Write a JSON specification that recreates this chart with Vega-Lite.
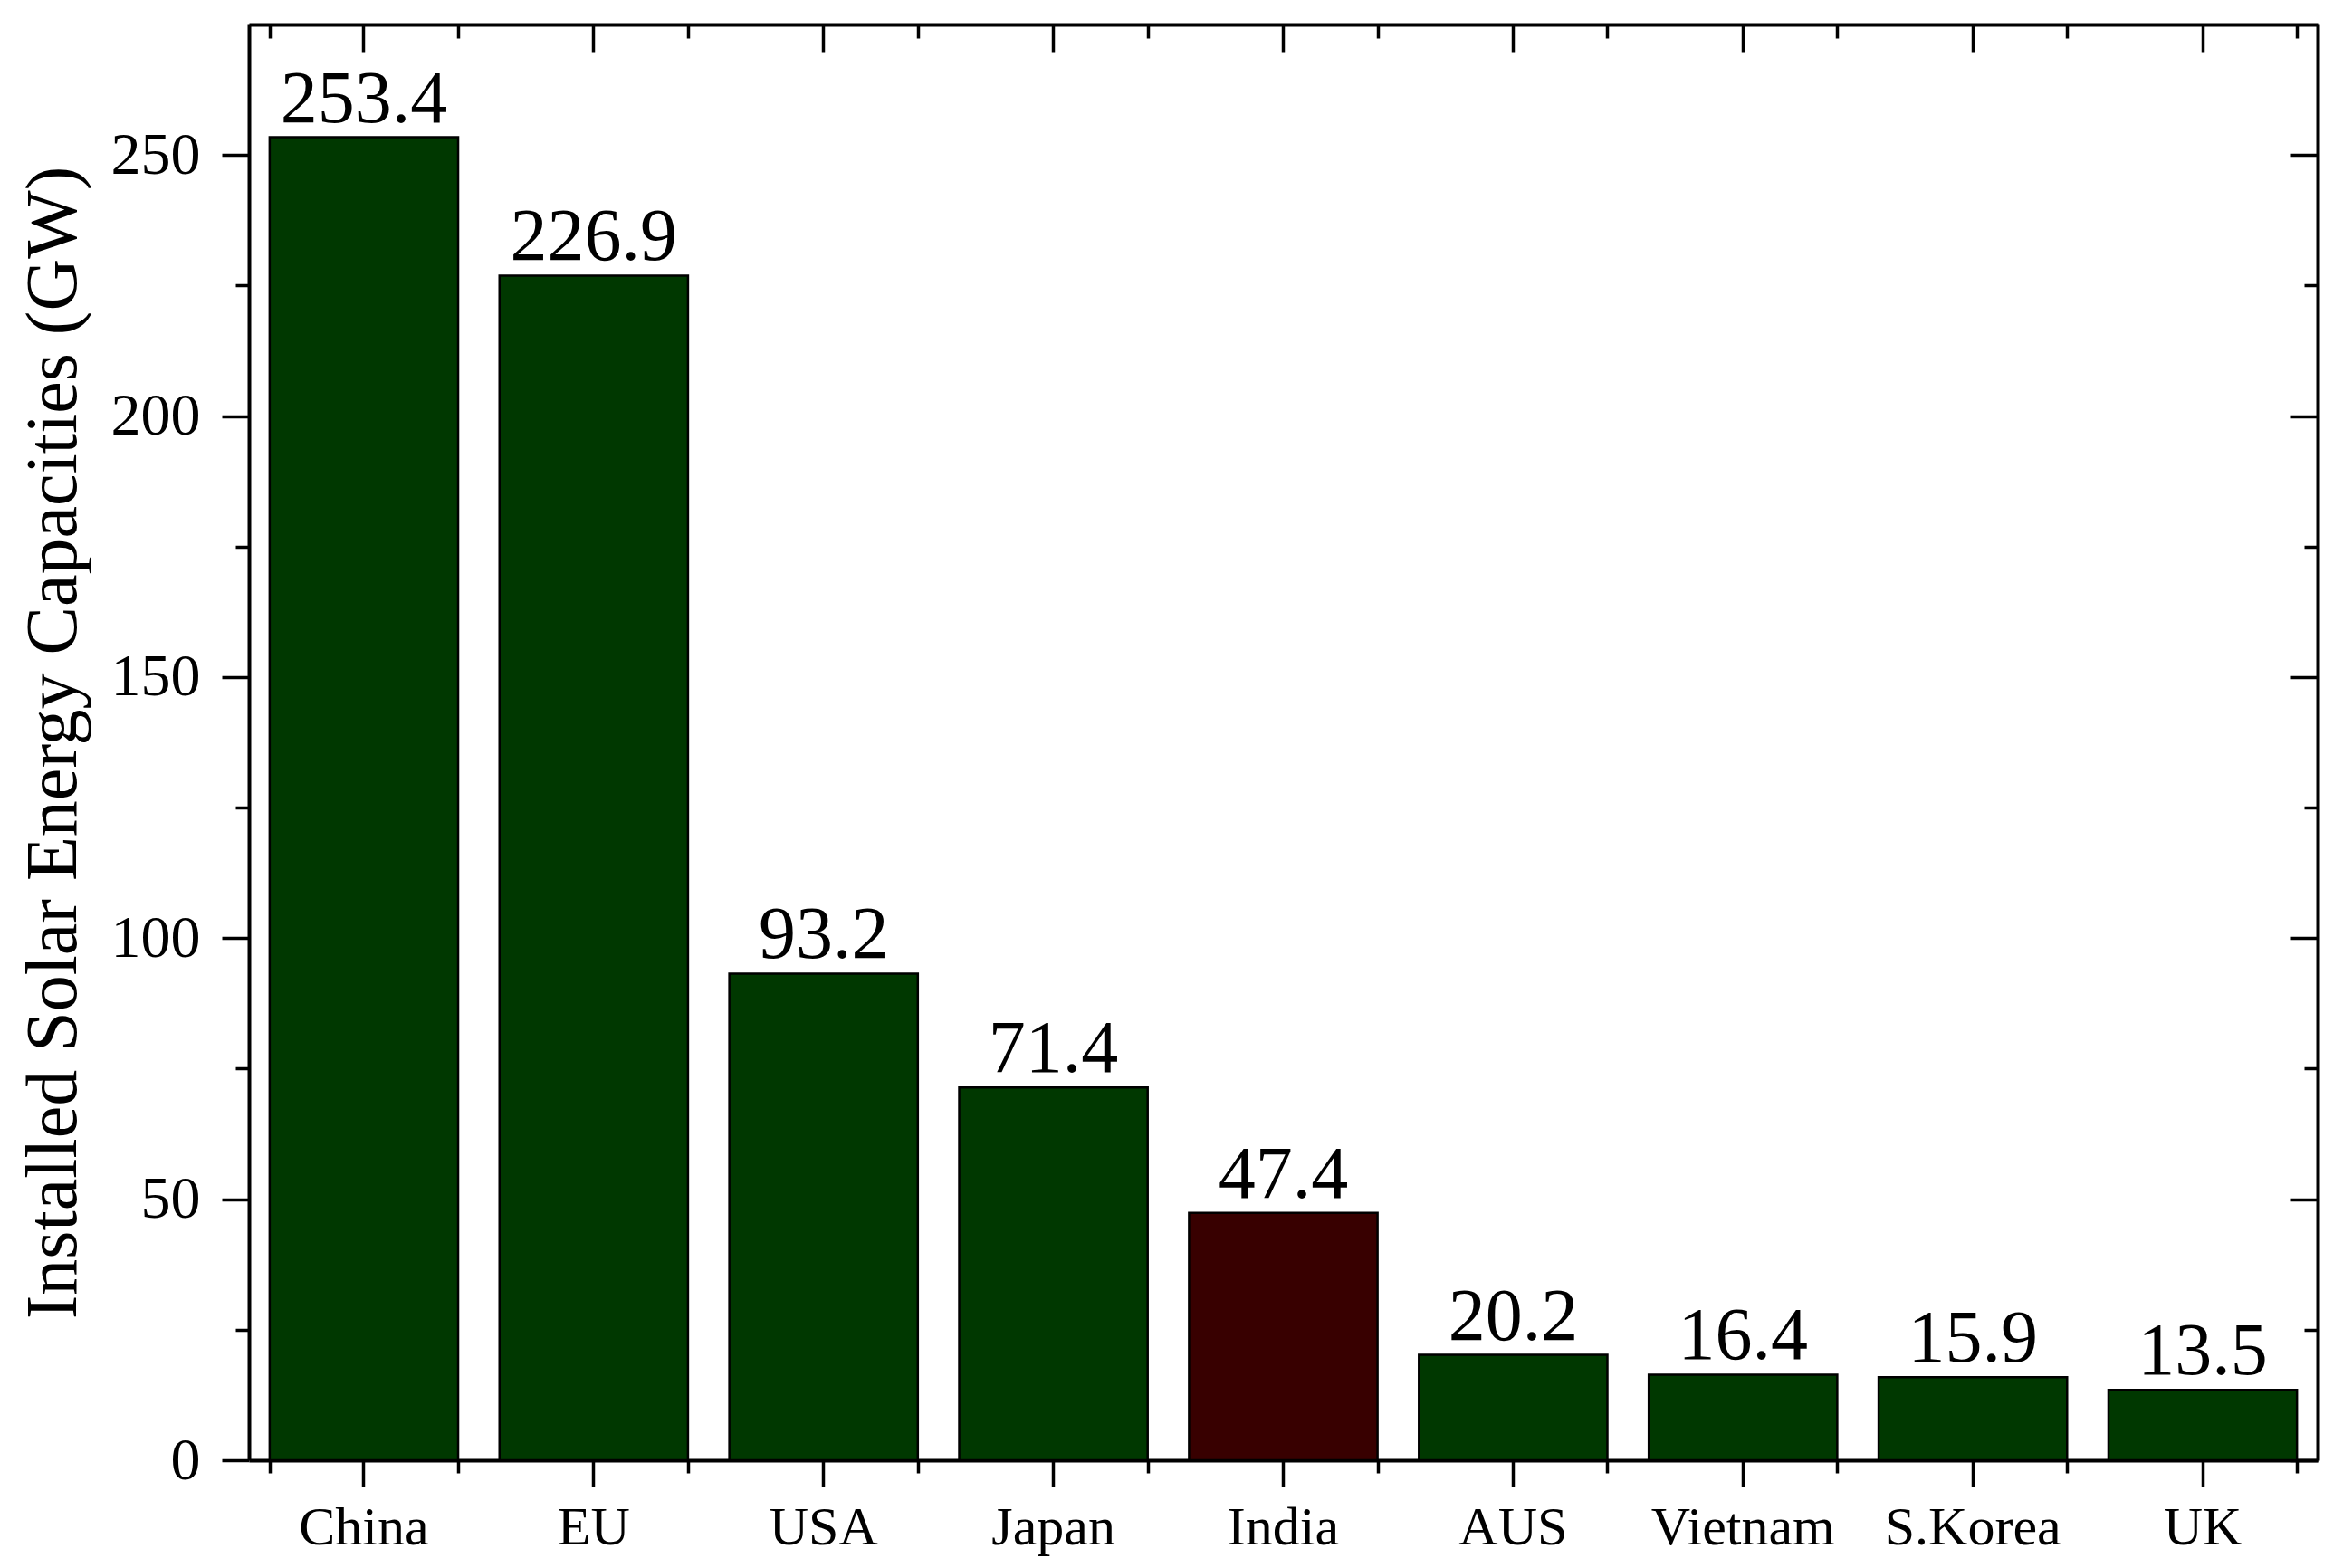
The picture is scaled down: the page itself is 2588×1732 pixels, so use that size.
{
  "$schema": "https://vega.github.io/schema/vega-lite/v6.json",
  "width": 2285,
  "height": 1586,
  "autosize": "none",
  "padding": {"left": 275, "top": 27, "right": 28, "bottom": 119},
  "background": "white",
  "config": {
    "view": {"stroke": null},
    "font": "Liberation Serif",
    "axis": {
      "grid": false,
      "domainColor": "black",
      "domainWidth": 4,
      "tickColor": "black",
      "tickWidth": 3.5,
      "labelColor": "black",
      "labelFont": "Liberation Serif",
      "labelLimit": 0,
      "titleFont": "Liberation Serif",
      "titleColor": "black",
      "titleFontWeight": "normal"
    }
  },
  "data": {
    "values": [
      {"country": "China", "value": 253.4, "group": "Other"},
      {"country": "EU", "value": 226.9, "group": "Other"},
      {"country": "USA", "value": 93.2, "group": "Other"},
      {"country": "Japan", "value": 71.4, "group": "Other"},
      {"country": "India", "value": 47.4, "group": "India"},
      {"country": "AUS", "value": 20.2, "group": "Other"},
      {"country": "Vietnam", "value": 16.4, "group": "Other"},
      {"country": "S.Korea", "value": 15.9, "group": "Other"},
      {"country": "UK", "value": 13.5, "group": "Other"}
    ]
  },
  "layer": [
    {
      "mark": {"type": "bar", "stroke": "black", "strokeWidth": 2.5},
      "encoding": {
        "x": {
          "field": "country", "type": "nominal", "sort": null,
          "scale": {"paddingInner": 0.18, "paddingOuter": 0.09},
          "axis": {"orient": "bottom", "title": null, "labelAngle": 0, "tickSize": 29, "labelFontSize": 60, "labelPadding": 16, "labelLimit": 0, "domain": true}
        },
        "y": {
          "field": "value", "type": "quantitative",
          "scale": {"domain": [0, 275], "nice": false},
          "axis": {"orient": "left", "values": [0, 50, 100, 150, 200, 250], "tickSize": 30, "labelFontSize": 66, "labelPadding": 24, "title": "Installed Solar Energy Capacities (GW)", "titleFontSize": 80, "titlePadding": 22}
        },
        "color": {
          "field": "group", "type": "nominal",
          "scale": {"domain": ["Other", "India"], "range": ["#003800", "#380000"]},
          "legend": null
        }
      }
    },
    {
      "mark": {"type": "text", "baseline": "alphabetic", "dy": -17, "fontSize": 82, "font": "Liberation Serif", "color": "black"},
      "encoding": {
        "x": {
          "field": "country", "type": "nominal", "sort": null,
          "axis": {"orient": "bottom", "title": null, "labels": false, "domain": false, "tickBand": "extent", "tickSize": 14}
        },
        "y": {
          "field": "value", "type": "quantitative",
          "axis": {"orient": "left", "title": null, "labels": false, "domain": false, "values": [25, 75, 125, 175, 225], "tickSize": 15}
        },
        "text": {"field": "value", "type": "quantitative", "format": ".1f"}
      }
    },
    {
      "mark": {"type": "bar", "opacity": 0},
      "encoding": {
        "x": {
          "field": "country", "type": "nominal", "sort": null,
          "axis": {"orient": "top", "title": null, "labels": false, "domain": true, "tickSize": -30}
        },
        "y": {
          "field": "value", "type": "quantitative",
          "axis": {"orient": "right", "title": null, "labels": false, "domain": true, "values": [0, 50, 100, 150, 200, 250], "tickSize": -30}
        }
      }
    },
    {
      "mark": {"type": "bar", "opacity": 0},
      "encoding": {
        "x": {
          "field": "country", "type": "nominal", "sort": null,
          "axis": {"orient": "top", "title": null, "labels": false, "domain": false, "tickBand": "extent", "tickSize": -15}
        },
        "y": {
          "field": "value", "type": "quantitative",
          "axis": {"orient": "right", "title": null, "labels": false, "domain": false, "values": [25, 75, 125, 175, 225], "tickSize": -15}
        }
      }
    }
  ],
  "resolve": {"axis": {"x": "independent", "y": "independent"}}
}
